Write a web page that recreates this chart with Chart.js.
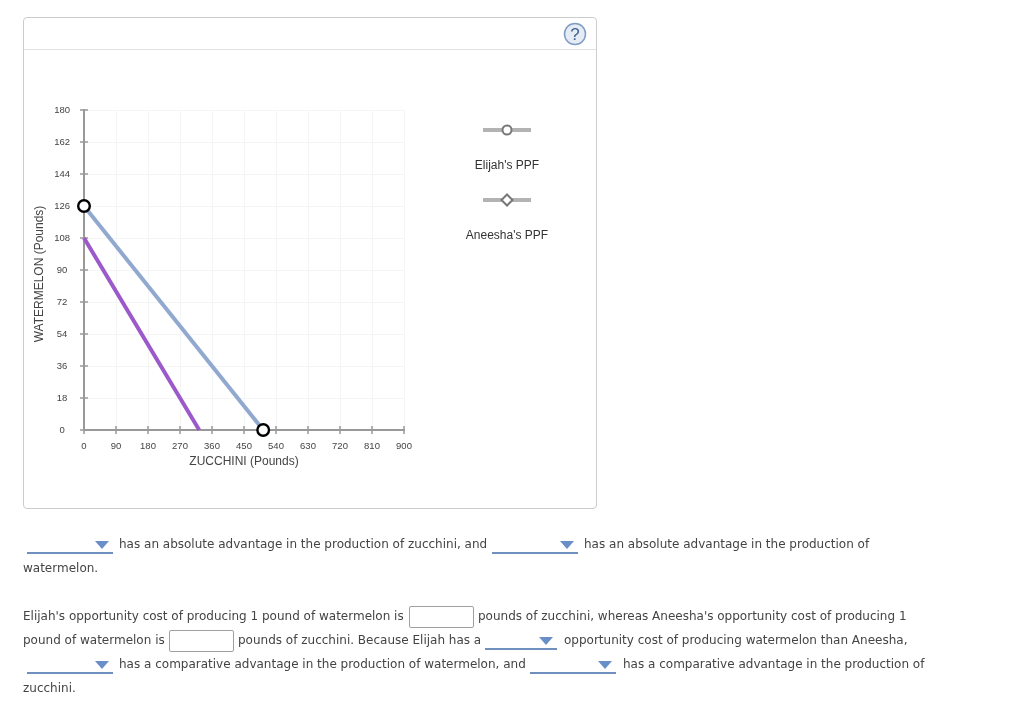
<!DOCTYPE html>
<html><head><meta charset="utf-8">
<script src="https://cdn.jsdelivr.net/npm/chart.js@4"></script>
<style>
html,body{margin:0;padding:0;background:#fff;overflow:hidden}
#wrap{position:relative;width:1030px;height:701px;overflow:hidden}
#panel{position:absolute;left:23px;top:17px;width:572px;height:490px;border:1px solid #ccc;border-radius:4px}
#head{position:absolute;left:24px;top:49px;width:572px;height:1px;background:#e2e2e2}
canvas{position:absolute;left:0;top:0}
.t{position:absolute;font:12px "DejaVu Sans",sans-serif;color:#444;white-space:nowrap;line-height:16px;transform:translateY(-8px)}
.lg{position:absolute;font:12px "Liberation Sans",Arial,sans-serif;color:#333;white-space:nowrap;transform:translate(-50%,-50%)}
.dd{position:absolute;height:2px;background:#6f8fbf}
.ar{position:absolute;width:0;height:0;border-left:7px solid transparent;border-right:7px solid transparent;border-top:8px solid #6a8fc8}
.in{position:absolute;width:63px;height:20px;border:1px solid #a0a0a0;border-radius:2px;background:#fff}
svg{position:absolute;left:0;top:0}
</style></head><body><div id="wrap">
<div id="panel"></div><div id="head"></div>
<canvas id="c" width="1030" height="701"></canvas>
<svg width="1030" height="701">
 <circle cx="575" cy="34" r="10.500" fill="#e6ecf5" stroke="#7f9cc4" stroke-width="1.500"/>
 <text x="575" y="40" text-anchor="middle" font-family="Liberation Sans,Arial,sans-serif" font-size="17" fill="#3f5f92">?</text>
 <rect x="483" y="128" width="48" height="4" fill="#b3b3b3"/>
 <circle cx="507" cy="130" r="4.500" fill="#fff" stroke="#777" stroke-width="2"/>
 <rect x="483" y="198" width="48" height="4" fill="#b3b3b3"/>
 <path d="M507 194.500 L512.500 200 L507 205.500 L501.500 200 Z" fill="#fff" stroke="#777" stroke-width="2"/>
</svg>
<div class="lg" style="left:507px;top:165px">Elijah's PPF</div>
<div class="lg" style="left:507px;top:235px">Aneesha's PPF</div>

<div class="dd" style="left:27px;top:552px;width:86px"></div><div class="ar" style="left:95px;top:541px"></div>
<div class="t" style="left:119px;top:544px">has an absolute advantage in the production of zucchini, and</div>
<div class="dd" style="left:492px;top:552px;width:86px"></div><div class="ar" style="left:560px;top:541px"></div>
<div class="t" style="left:584px;top:544px">has an absolute advantage in the production of</div>
<div class="t" style="left:23px;top:568px">watermelon.</div>

<div class="t" style="left:23px;top:616px">Elijah's opportunity cost of producing 1 pound of watermelon is</div>
<div class="in" style="left:409px;top:606px"></div>
<div class="t" style="left:478px;top:616px">pounds of zucchini, whereas Aneesha's opportunity cost of producing 1</div>

<div class="t" style="left:23px;top:640px">pound of watermelon is</div>
<div class="in" style="left:169px;top:630px"></div>
<div class="t" style="left:238px;top:640px">pounds of zucchini. Because Elijah has a</div>
<div class="dd" style="left:485px;top:648px;width:72px"></div><div class="ar" style="left:539px;top:637px"></div>
<div class="t" style="left:564px;top:640px">opportunity cost of producing watermelon than Aneesha,</div>

<div class="dd" style="left:27px;top:672px;width:86px"></div><div class="ar" style="left:95px;top:661px"></div>
<div class="t" style="left:119px;top:664px">has a comparative advantage in the production of watermelon, and</div>
<div class="dd" style="left:530px;top:672px;width:86px"></div><div class="ar" style="left:598px;top:661px"></div>
<div class="t" style="left:623px;top:664px">has a comparative advantage in the production of</div>
<div class="t" style="left:23px;top:688px">zucchini.</div>
</div>
<script>
const zucchiniTicks = [0,90,180,270,360,450,540,630,720,810,900];
const watermelonTicks = [0,18,36,54,72,90,108,126,144,162,180];
const elijahPPF = [{x:0,y:126},{x:504,y:0}];
const aneeshaPPF = [{x:0,y:108},{x:324,y:0}];
const xTitle = 'ZUCCHINI (Pounds)';
const yTitle = 'WATERMELON (Pounds)';

const tickFont = {family:'"Liberation Sans",Arial,sans-serif',size:9.500};
const titleFont = {family:'"Liberation Sans",Arial,sans-serif',size:12};
const crossTicks = {
  id:'crossTicks',
  afterLayout(chart){
    const y = chart.scales.y;
    if (y._shifted) return;
    y._shifted = true;
    const drawTitle = y.drawTitle;
    y.drawTitle = function(){ const b = this.bottom; this.bottom = b + 8; drawTitle.call(this); this.bottom = b; };
  },
  beforeDatasetsDraw(chart){
    const {ctx,scales:{x,y}} = chart;
    ctx.save();ctx.strokeStyle='#999';ctx.lineWidth=1.500;ctx.beginPath();
    zucchiniTicks.forEach(v=>{const p=x.getPixelForValue(v);ctx.moveTo(p,y.bottom-4);ctx.lineTo(p,y.bottom+4);});
    watermelonTicks.forEach(v=>{const p=y.getPixelForValue(v);ctx.moveTo(x.left-4,p);ctx.lineTo(x.left+4,p);});
    ctx.stroke();ctx.restore();
  }
};
new Chart(document.getElementById('c'),{
  type:'scatter',
  data:{datasets:[
    {label:"Aneesha's PPF",data:aneeshaPPF,showLine:true,borderColor:'#9b59c9',borderWidth:4,pointRadius:0,clip:false,order:2},
    {label:"Elijah's PPF",data:elijahPPF,showLine:true,borderColor:'#92a9cf',borderWidth:4,pointRadius:5.800,pointBackgroundColor:'#fff',pointBorderColor:'#000',pointBorderWidth:2.400,clip:false,order:1}
  ]},
  plugins:[crossTicks],
  options:{
    responsive:false,animation:false,
    layout:{padding:{left:30,right:626,top:110,bottom:231}},
    plugins:{legend:{display:false},tooltip:{enabled:false}},
    scales:{
      x:{type:'linear',min:0,max:900,
        afterBuildTicks:s=>{s.ticks=zucchiniTicks.map(v=>({value:v}));},
        afterFit:s=>{s.height=40;},
        grid:{color:'#f5f5f5',drawTicks:false},
        border:{color:'#999',width:2},
        ticks:{font:tickFont,color:'#444',padding:11,maxRotation:0,autoSkip:false},
        title:{display:true,text:xTitle,font:titleFont,color:'#444',padding:{top:1,bottom:1}}
      },
      y:{type:'linear',min:0,max:180,
        afterBuildTicks:s=>{s.ticks=watermelonTicks.map(v=>({value:v}));},
        afterFit:s=>{s.width=54;},
        grid:{color:'#f5f5f5',drawTicks:false},
        border:{color:'#999',width:2},
        ticks:{font:tickFont,color:'#444',padding:14,crossAlign:'center',autoSkip:false},
        title:{display:true,text:yTitle,font:titleFont,color:'#444',padding:{top:2,bottom:2}}
      }
    }
  }
});
</script>
</body></html>
